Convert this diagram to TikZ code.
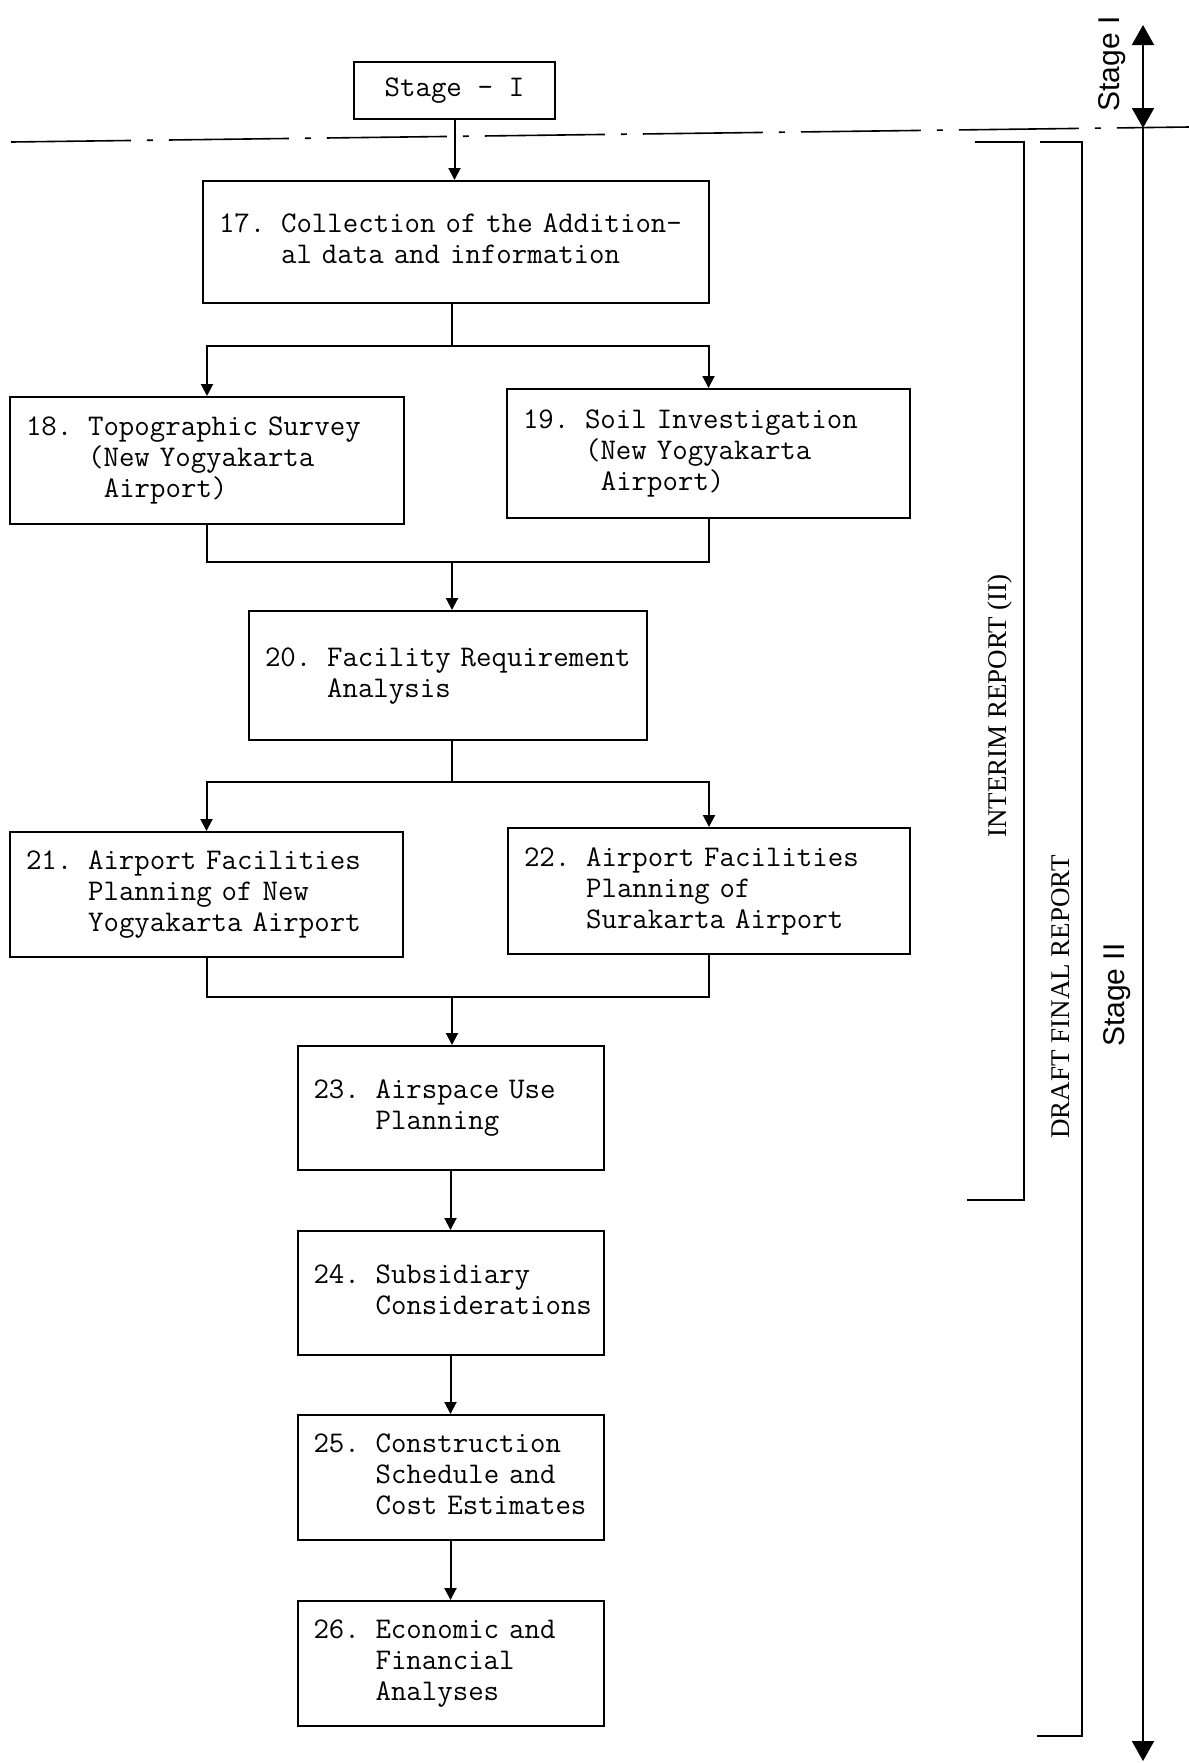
\documentclass[tikz,border=0pt]{standalone}
\usepackage{fontspec}
\setmainfont{Liberation Serif}
\setsansfont{Liberation Sans}
\usepackage{tikz}
\usetikzlibrary{
    arrows.meta
}
\newcommand{\taskfont}{\ttfamily\fontsize{15}{15.5}\selectfont\spaceskip=0.525em\xspaceskip=0.525em\relax}
\tikzset{
    task/.style={draw, line width=1pt, inner xsep=8pt, inner ysep=0pt, align=left, font=\taskfont},
    link/.style={line width=1pt},
    bracket/.style={line width=1pt},
    report/.style={rotate=90, font=\fontsize{13.5}{16}\selectfont},
    stagelabel/.style={rotate=90, font=\sffamily\fontsize{15}{18}\selectfont},
    bigtip/.style={line width=1pt, >={Triangle[length=10pt,width=11pt]}}
}
\newcommand{\tasktext}[2]{\begin{tabular}{@{}l@{\hspace{0.525em}}l@{}}#1 & #2\end{tabular}}

\begin{document}
\begin{tikzpicture}[x=0.5pt, y=-0.5pt, >={Triangle[length=6pt,width=6pt]}]
        \useasboundingbox (0,0) rectangle (1189,1763);

        \draw (454.5,90.5) node[draw, line width=1pt, minimum width=100.5pt, minimum height=28.5pt,
            font=\taskfont](stage1){Stage - I};
        \draw (456,242) node[task, text width=237pt, minimum height=61pt](n17)
            {\tasktext{17.}{Collection of the Addition-\\ & al data and information}};
        \draw (207,460.5) node[task, text width=181pt, minimum height=63.5pt](n18)
            {\tasktext{18.}{Topographic Survey\\ & (New Yogyakarta\\ & \hspace{0.525em}Airport)}};
        \draw (708.5,453.5) node[task, text width=185.5pt, minimum height=64.5pt](n19)
            {\tasktext{19.}{Soil Investigation\\ & (New Yogyakarta\\ & \hspace{0.525em}Airport)}};
        \draw (448,675.5) node[task, text width=183pt, minimum height=64.5pt](n20)
            {\tasktext{20.}{Facility Requirement\\ & Analysis}};
        \draw (206.5,894.5) node[task, text width=180.5pt, minimum height=62.5pt](n21)
            {\tasktext{21.}{Airport Facilities\\ & Planning of New\\ & Yogyakarta Airport}};
        \draw (709,891) node[task, text width=185pt, minimum height=63pt](n22)
            {\tasktext{22.}{Airport Facilities\\ & Planning of\\ & Surakarta Airport}};
        \draw (450.5,1108) node[task, text width=137pt, minimum height=62pt](n23)
            {\tasktext{23.}{Airspace Use\\ & Planning}};
        \draw (450.5,1293) node[task, text width=137pt, minimum height=62pt](n24)
            {\tasktext{24.}{Subsidiary\\ & Considerations}};
        \draw (450.5,1477.5) node[task, text width=137pt, minimum height=62.5pt](n25)
            {\tasktext{25.}{Construction\\ & Schedule and\\ & Cost Estimates}};
        \draw (450.5,1663.5) node[task, text width=137pt, minimum height=62.5pt](n26)
            {\tasktext{26.}{Economic and\\ & Financial\\ & Analyses}};

        \coordinate (split1) at (452,346);
        \coordinate (join1) at (452,562);
        \coordinate (split2) at (452,782);
        \coordinate (join2) at (452,997);

        \draw[link, ->] (stage1.south) -- (stage1.south |- n17.north);
        \draw[link] (n17.south -| split1) -- (split1);
        \draw[link, ->] (split1) -| (n18);
        \draw[link, ->] (split1) -| (n19);
        \draw[link] (n18) |- (join1) -| (n19);
        \draw[link, ->] (join1) -- (join1 |- n20.north);
        \draw[link] (n20.south -| split2) -- (split2);
        \draw[link, ->] (split2) -| (n21);
        \draw[link, ->] (split2) -| (n22);
        \draw[link] (n21) |- (join2) -| (n22);
        \draw[link, ->] (join2) -- (join2 |- n23.north);
        \draw[link, ->] (n23) -- (n24);
        \draw[link, ->] (n24) -- (n25);
        \draw[link, ->] (n25) -- (n26);

        % stage boundary
        \draw[line width=0.8pt, dash pattern=on 60pt off 8pt on 3pt off 8pt] (11,142) -- (1189,127);

        % report brackets
        \draw[bracket] (975,142) -- (1024,142) -- (1024,1200) -- (967,1200);
        \draw[bracket] (1040,142) -- (1082,142) -- (1082,1736) -- (1037,1736);
        \draw (1000,706) node[report](interim){INTERIM REPORT (II)};
        \draw (1061,997) node[report](draft){DRAFT FINAL REPORT};

        % stage axis
        \coordinate (axtop) at (1143,25);
        \coordinate (axmid) at (1143,128);
        \coordinate (axbot) at (1143,1761);
        \draw[bigtip, <->] (axtop) -- (axmid);
        \draw[bigtip, ->] (axmid) -- (axbot);
        \draw (1112,64) node[stagelabel](stI){Stage I};
        \draw (1117,995) node[stagelabel](stII){Stage II};
    \end{tikzpicture}
\end{document}
